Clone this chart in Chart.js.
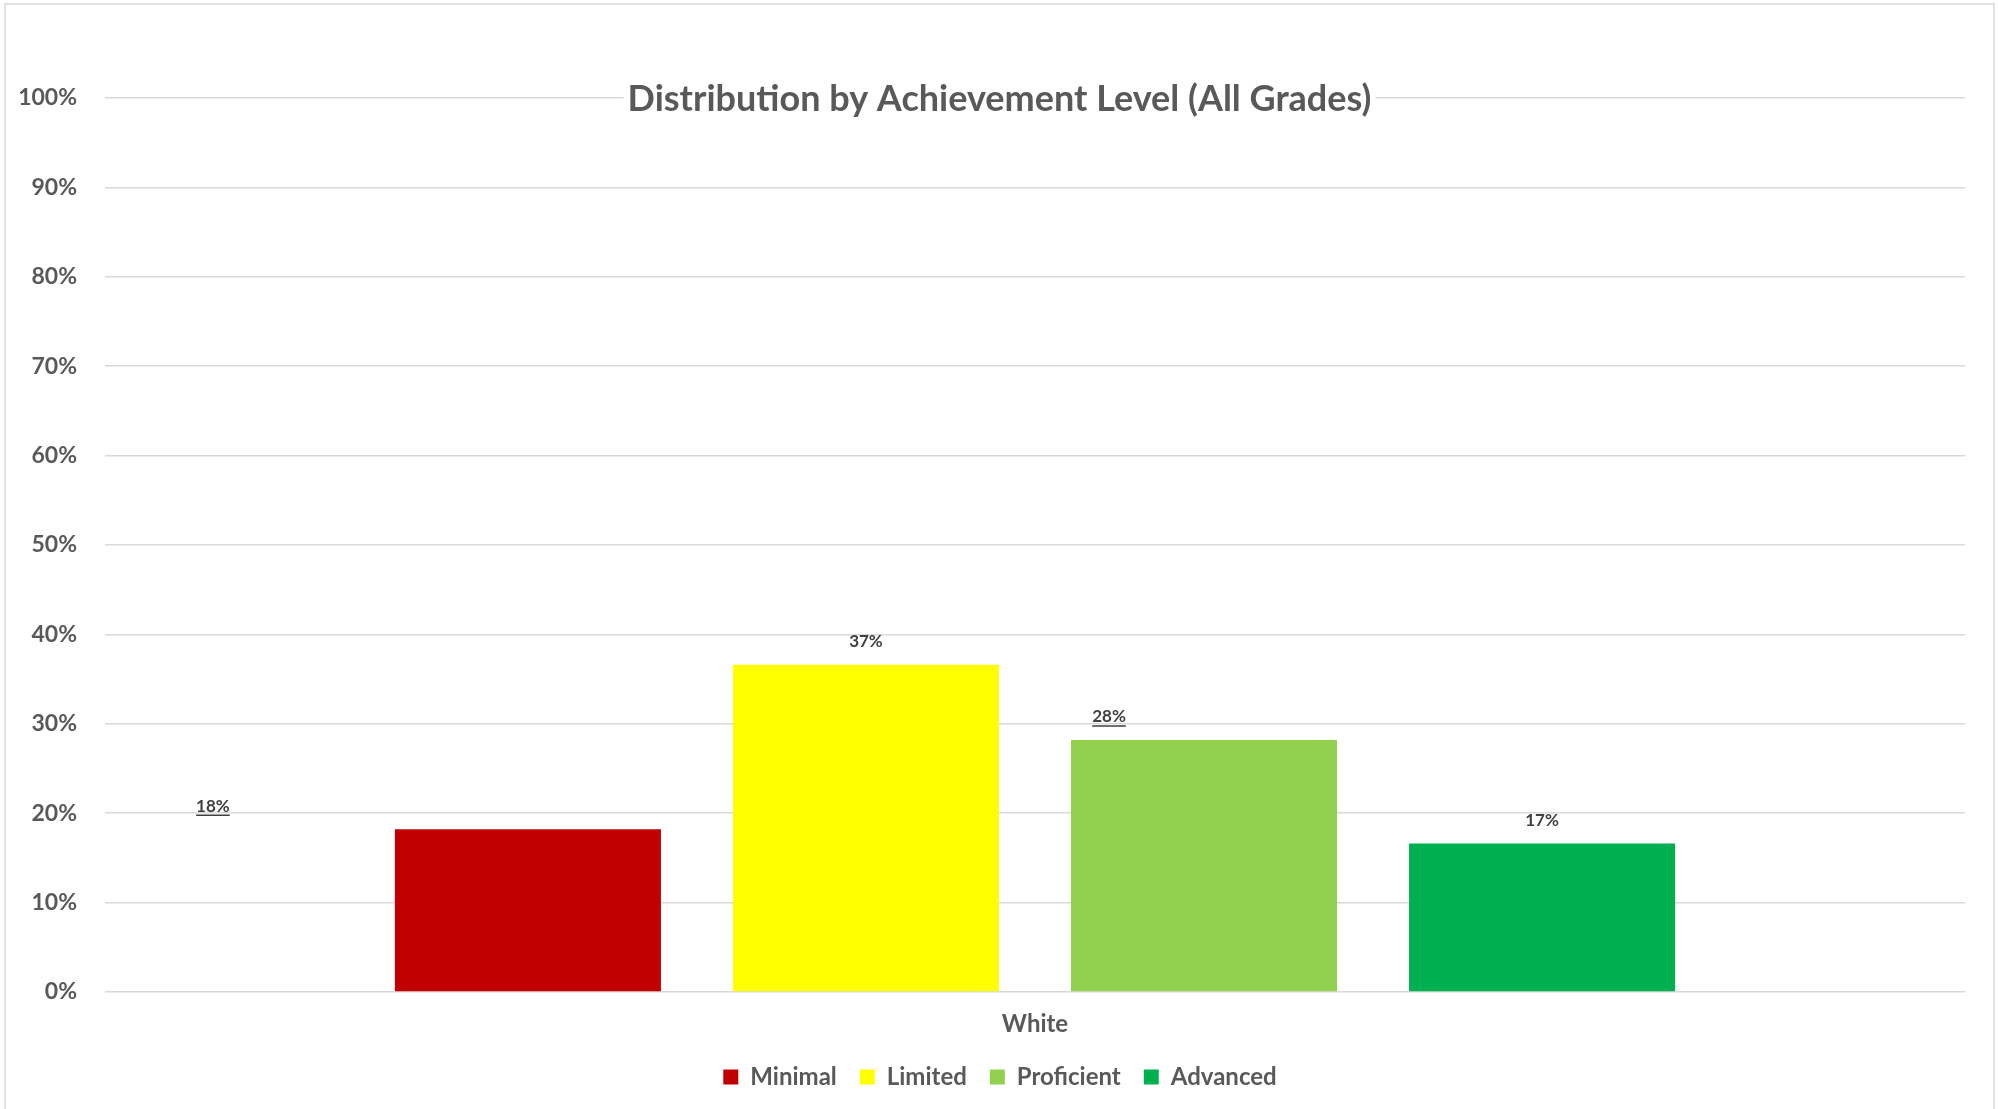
<!DOCTYPE html>
<html lang="en">
<head>
<meta charset="utf-8"/>
<title>Distribution by Achievement Level (All Grades)</title>
<script src="https://cdn.jsdelivr.net/npm/chart.js@4.4.0/dist/chart.umd.min.js"></script>
<style>
  html, body { margin: 0; padding: 0; background: #ffffff; }
  #chartBox { position: relative; width: 1999px; height: 1109px; }
</style>
</head>
<body>
<div id="chartBox"><canvas id="myChart"></canvas></div>
<script id="code">
  // values
  var categories = ["White"];
  var levels = ["Minimal", "Limited", "Proficient", "Advanced"];
  var levelColors = ["#C00000", "#FFFF00", "#92D050", "#00B050"];
  var minimal = [18.2];
  var limited = [36.6];
  var proficient = [28.2];
  var advanced = [16.6];
  var yTicks = [0, 10, 20, 30, 40, 50, 60, 70, 80, 90, 100];

  var FONT = "Lato, 'Open Sans', sans-serif";
  var TEXT = "#595959";

  // white page, thin grey frame round the chart
  var framePlugin = {
    id: "frame",
    afterLayout: function (chart) {
      // let the y labels spill left of the narrow axis box instead of being clipped
      chart.scales.y.left = 0;
    },
    beforeDraw: function (chart) {
      var ctx = chart.ctx;
      ctx.save();
      ctx.fillStyle = "#ffffff";
      ctx.fillRect(0, 0, chart.width, chart.height);
      ctx.strokeStyle = "#d9d9d9";
      ctx.lineWidth = 1.5;
      ctx.strokeRect(5, 4, chart.width - 10, chart.height + 20);
      ctx.restore();
    }
  };

  // title sits on the 100% gridline with a white backing, like the Excel original
  var overlayTitle = {
    id: "overlayTitle",
    afterDraw: function (chart, args, opts) {
      var ctx = chart.ctx;
      var y = chart.scales.y.getPixelForValue(100) + 1;
      ctx.save();
      ctx.font = opts.font;
      var w = ctx.measureText(opts.text).width;
      var x = chart.width / 2;
      ctx.fillStyle = "#ffffff";
      ctx.fillRect(x - w / 2 - 4, y - 22, w + 8, 44);
      ctx.fillStyle = opts.color;
      ctx.textAlign = "center";
      ctx.textBaseline = "middle";
      ctx.fillText(opts.text, x, y);
      ctx.restore();
    }
  };

  // value labels above the bars; some were dragged aside in the original
  var barLabels = {
    id: "barLabels",
    afterDatasetsDraw: function (chart, args, opts) {
      var ctx = chart.ctx;
      ctx.save();
      ctx.font = opts.font;
      ctx.fillStyle = opts.color;
      ctx.strokeStyle = opts.color;
      ctx.textAlign = "center";
      ctx.textBaseline = "middle";
      chart.data.datasets.forEach(function (ds, i) {
        var meta = chart.getDatasetMeta(i);
        meta.data.forEach(function (bar, j) {
          var txt = Math.round(ds.data[j]) + "%";
          var x = bar.x + opts.shiftX[i];
          var y = bar.y - opts.lift;
          ctx.fillText(txt, x, y);
          if (opts.underline[i]) {
            var w = ctx.measureText(txt).width;
            ctx.lineWidth = 1.5;
            ctx.beginPath();
            ctx.moveTo(x - w / 2, y + 9);
            ctx.lineTo(x + w / 2, y + 9);
            ctx.stroke();
          }
        });
      });
      ctx.restore();
    }
  };

  var series = [minimal, limited, proficient, advanced];
  var datasets = levels.map(function (name, i) {
    return {
      label: name,
      data: series[i],
      backgroundColor: levelColors[i],
      borderWidth: 0,
      categoryPercentage: 0.727,
      barPercentage: 0.787
    };
  });

  new Chart(document.getElementById("myChart"), {
    type: "bar",
    data: { labels: categories, datasets: datasets },
    plugins: [framePlugin, overlayTitle, barLabels],
    options: {
      responsive: true,
      maintainAspectRatio: false,
      animation: false,
      layout: { padding: { left: 35, right: 34, top: 98, bottom: 10 } },
      scales: {
        x: {
          afterFit: function (s) { s.height = 50; },
          grid: { display: false, drawTicks: false },
          border: { display: false },
          ticks: { color: TEXT, font: { family: FONT, size: 24, weight: "bold" }, padding: 18 }
        },
        y: {
          min: 0,
          max: 100,
          afterBuildTicks: function (s) {
            s.ticks = yTicks.map(function (v) { return { value: v }; });
          },
          afterFit: function (s) { s.width = 70; },
          grid: { color: "#d9d9d9", lineWidth: 1.5, drawTicks: false },
          border: { display: false },
          ticks: {
            color: TEXT,
            padding: 28,
            font: { family: FONT, size: 23, weight: "bold" },
            callback: function (v) { return v + "%"; }
          }
        }
      },
      plugins: {
        legend: {
          position: "bottom",
          labels: {
            color: TEXT,
            boxWidth: 15,
            boxHeight: 15,
            padding: 23,
            font: { family: FONT, size: 24, weight: "bold" }
          }
        },
        tooltip: { enabled: false },
        overlayTitle: {
          text: "Distribution by Achievement Level (All Grades)",
          font: "bold 36px " + FONT,
          color: TEXT
        },
        barLabels: {
          font: "bold 17px " + FONT,
          color: "#404040",
          lift: 23,
          shiftX: [-315, 0, -95, 0],
          underline: [true, false, true, false]
        }
      }
    }
  });
</script>
</body>
</html>
